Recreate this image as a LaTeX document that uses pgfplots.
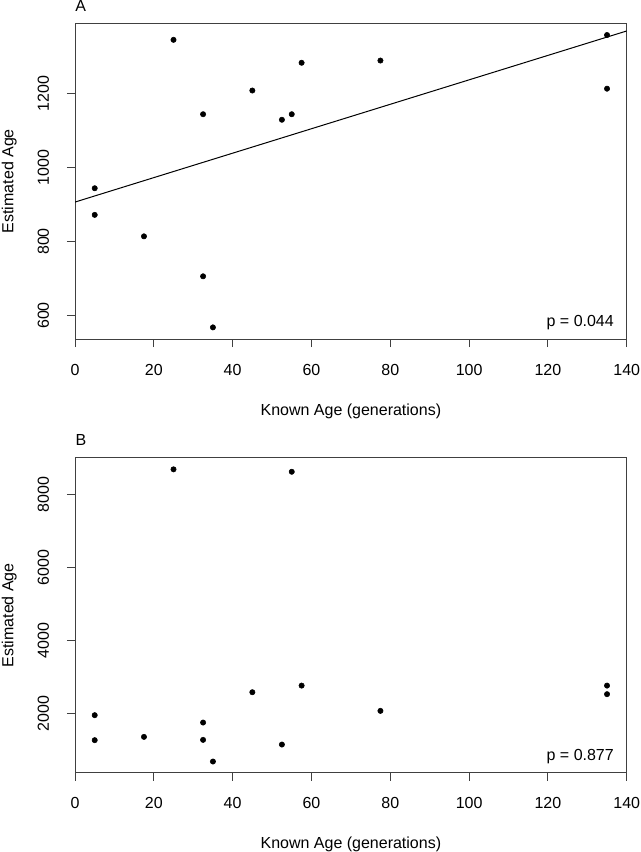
\documentclass[border=0pt]{standalone}
\usepackage{fontspec}
\setmainfont{Liberation Sans}
\usepackage{pgfplots}
\pgfplotsset{compat=1.18}
\begin{document}
\fontsize{12}{14}\selectfont
\begin{tikzpicture}
\path[use as bounding box] (0pt,0pt) rectangle (480pt,-639pt);
\pgfplotsset{
  rstyle/.style={
    scale only axis, width=413.8pt,
    xmin=0, xmax=140, xtick={0,20,...,140},
    axis line style={line width=0.75pt, black!75},
    tick style={line width=0.75pt, black!75},
    tick align=outside, major tick length=6pt,
    xtick pos=bottom, ytick pos=left,
    /pgf/number format/assume math mode=true,
    /pgf/number format/1000 sep={},
    xticklabel style={anchor=base, yshift=-21pt, font=\fontsize{12}{14}\selectfont},
    yticklabel style={xshift=-13.5pt, rotate=90, anchor=base, font=\fontsize{12}{14}\selectfont},
    xlabel={Known Age (generations)}, ylabel={Estimated Age},
    label style={font=\fontsize{12}{14}\selectfont},
    every axis plot/.append style={black},
  }
}
% Panel A
\begin{axis}[rstyle, at={(56.25pt,-17.5pt)}, anchor=north west, height=236.8pt,
  ymin=536.4, ymax=1389.6, ytick={600,800,1000,1200},
  xlabel style={at={(axis description cs:0.5,-0.2407)}, anchor=base},
  ylabel style={at={(axis description cs:-0.1115,0.5)}, anchor=base}]
\addplot[only marks, mark=*, mark size=2pt] coordinates {
 (5,944) (5,872) (17.5,814) (25,1345) (32.5,1144) (32.5,706) (35,568)
 (45,1208) (52.5,1129) (55,1144) (57.5,1283) (77.5,1289) (135,1358) (135,1213)};
\addplot[no marks, line width=0.75pt] coordinates {(0,906.6) (140,1369)};
\node[anchor=base east, xshift=-5.5pt, yshift=9.75pt] at (rel axis cs:1,0) {p = 0.044};
\end{axis}
% Panel B
\begin{axis}[rstyle, at={(56.25pt,-343.3pt)}, anchor=north west, height=236.25pt,
  ymin=380, ymax=9005, ytick={2000,4000,6000,8000},
  xlabel style={at={(axis description cs:0.5,-0.2413)}, anchor=base},
  ylabel style={at={(axis description cs:-0.1115,0.5)}, anchor=base}]
\addplot[only marks, mark=*, mark size=2pt] coordinates {
 (5,1956) (5,1272) (17.5,1362) (25,8687) (32.5,1754) (32.5,1280) (35,687)
 (45,2585) (52.5,1152) (55,8621) (57.5,2766) (77.5,2074) (135,2766) (135,2531)};
\node[anchor=base east, xshift=-5.5pt, yshift=9.5pt] at (rel axis cs:1,0) {p = 0.877};
\end{axis}
\node[anchor=base west, inner sep=0pt] at (56.25pt,-8.8pt) {A};
\node[anchor=base west, inner sep=0pt] at (56.6pt,-334.3pt) {B};
\end{tikzpicture}
\end{document}
